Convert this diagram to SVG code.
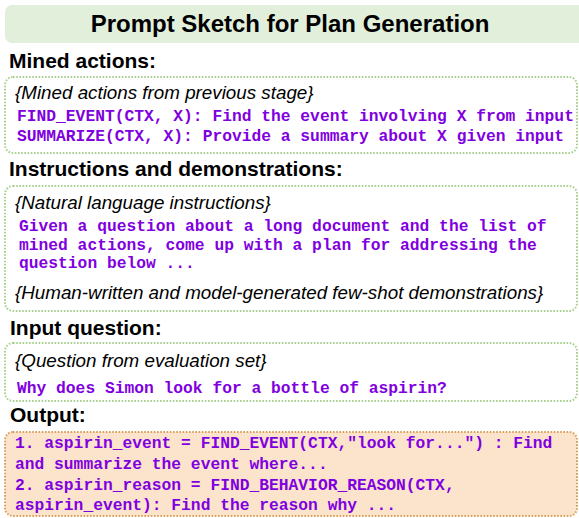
<svg xmlns="http://www.w3.org/2000/svg" width="579" height="518" viewBox="0 0 579 518">
<style>
.bg{fill:#ffffff}
.title-box{fill:#e2efda;stroke:none}
.box{fill:#ffffff;stroke:#a9d18e;stroke-width:2;stroke-dasharray:1.6 1.6}
.obox{fill:#fce4cc;stroke:#d9a05b;stroke-width:2;stroke-dasharray:1.6 1.6}
.title{font-family:"Liberation Sans",Arial,sans-serif;font-weight:bold;font-size:24px;fill:#000}
.head{font-family:"Liberation Sans",Arial,sans-serif;font-weight:bold;font-size:21px;fill:#000}
.it{font-family:"Liberation Sans",Arial,sans-serif;font-style:italic;font-size:18.8px;fill:#000}
.code{font-family:"Liberation Mono","Courier New",monospace;font-weight:bold;font-size:16.3px;fill:#8000e0}
</style>
<rect class="bg" x="0" y="0" width="579" height="518"/>
<g id="title">
<rect class="title-box" x="5" y="5" width="584" height="38" rx="7"/>
<text class="title" x="290" y="32" text-anchor="middle">Prompt Sketch for Plan Generation</text>
</g>
<g id="mined-actions">
<text class="head" x="9" y="68">Mined actions:</text>
<rect class="box" x="5" y="77" width="572" height="76" rx="8"/>
<text class="it" x="15" y="99">{Mined actions from previous stage}</text>
<text class="code" x="17" y="121">FIND_EVENT(CTX, X): Find the event involving X from input</text>
<text class="code" x="17" y="141">SUMMARIZE(CTX, X): Provide a summary about X given input</text>
</g>
<g id="instructions">
<text class="head" x="9" y="176">Instructions and demonstrations:</text>
<rect class="box" x="5" y="186" width="572" height="125" rx="8"/>
<text class="it" x="15" y="209">{Natural language instructions}</text>
<text class="code" x="19" y="231">Given a question about a long document and the list of</text>
<text class="code" x="19" y="250">mined actions, come up with a plan for addressing the</text>
<text class="code" x="19" y="268">question below ...</text>
<text class="it" x="15" y="299">{Human-written and model-generated few-shot demonstrations}</text>
</g>
<g id="input-question">
<text class="head" x="10" y="335">Input question:</text>
<rect class="box" x="5" y="343" width="572" height="58" rx="8"/>
<text class="it" x="15" y="367">{Question from evaluation set}</text>
<text class="code" x="17" y="393">Why does Simon look for a bottle of aspirin?</text>
</g>
<g id="output">
<text class="head" x="10" y="422">Output:</text>
<rect class="obox" x="5" y="432" width="572" height="84" rx="8"/>
<text class="code" x="15" y="448">1. aspirin_event = FIND_EVENT(CTX,"look for...") : Find</text>
<text class="code" x="15" y="469">and summarize the event where...</text>
<text class="code" x="15" y="490">2. aspirin_reason = FIND_BEHAVIOR_REASON(CTX,</text>
<text class="code" x="15" y="510">aspirin_event): Find the reason why ...</text>
</g>
<g id="connectors"/>
</svg>
